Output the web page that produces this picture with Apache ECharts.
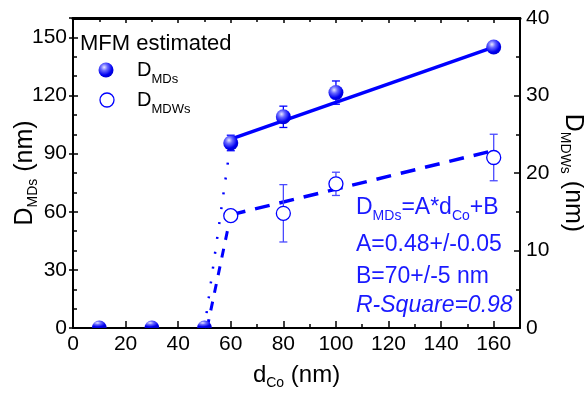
<!DOCTYPE html>
<html><head><meta charset="utf-8">
<script src="https://cdn.jsdelivr.net/npm/echarts@6/dist/echarts.min.js"></script>
<style>html,body{margin:0;padding:0;background:#fff}#c{width:584px;height:394px}</style>
</head><body><div id="c"></div>
<script>
// ---- data ----
const dCoOn = [60, 80, 100, 160];
const dMDs = [95.5, 109, 121.5, 145];
const dMDsErr = [4, 5.5, 6, 1];
const dCoZero = [10, 30, 50];
const dMDsZero = [0, 0, 0];
const dCoW = [60, 80, 100, 160];
const dMDWs = [14.5, 14.8, 18.6, 22];
const dMDWsErr = [0, 3.7, 1.5, 3];
const fitX = [60, 160];
const fitMDs = [97.5, 145];
const fitMDWs = [14.6, 22.9];
const onsetMDsX = [50, 60];
const onsetMDs = [0, 96];
const onsetMDWsX = [51, 60];
const onsetMDWs = [0, 14.6];
const annotation = ['{d|D}{s|MDs}{d|=A*d}{s|Co}{d|+B}', 'A=0.48+/-0.05', 'B=70+/-5 nm', '{i|R-Square=0.98}'];

const blue = '#0000ff';
const ball = {type:'radial', x:0.38, y:0.32, r:0.75, colorStops:[
  {offset:0, color:'#e8e8ff'}, {offset:0.3, color:'#6a6aff'}, {offset:0.7, color:'#0000f0'}, {offset:1, color:'#0000c8'}]};
const FONT = 'Liberation Sans, Arial, sans-serif';

function pairs(xs, ys){ return xs.map((x,i)=>[x, ys[i]]); }
function errSeries(xs, ys, es, yIdx, color){
  return {
    type:'custom', xAxisIndex:0, yAxisIndex:yIdx, z:3,
    data: xs.map((x,i)=>[x, ys[i], es[i]]),
    renderItem: function(params, api){
      const x = api.value(0), y = api.value(1), e = api.value(2);
      const top = api.coord([x, y+e]), bot = api.coord([x, y-e]);
      const st = {stroke: color, lineWidth: 1.3};
      return {type:'group', children:[
        {type:'line', shape:{x1:top[0], y1:top[1], x2:bot[0], y2:bot[1]}, style:st},
        {type:'line', shape:{x1:top[0]-4, y1:top[1], x2:top[0]+4, y2:top[1]}, style:st},
        {type:'line', shape:{x1:bot[0]-4, y1:bot[1], x2:bot[0]+4, y2:bot[1]}, style:st}
      ]};
    }
  };
}

const chart = echarts.init(document.getElementById('c'), null, {renderer:'canvas'});
const axLine = (w) => ({show:true, onZero:false, lineStyle:{color:'#000', width:w || 2}});
const subRich = (fs, sub, pad) => ({
  d:{fontSize:fs, fontFamily:FONT, color:'#000'},
  s:{fontSize:sub, fontFamily:FONT, color:'#000', padding:[pad,0,0,0]}
});

chart.setOption({
  animation:false,
  grid:{left:73, right:64, top:18, bottom:66, containLabel:false, outerBoundsMode:'none'},
  xAxis:[
    {type:'value', position:'bottom', min:0, max:170, interval:20,
     axisLine:axLine(), axisTick:{inside:true, length:7, lineStyle:{color:'#000', width:1.5}},
     minorTick:{show:true, splitNumber:2, length:4, lineStyle:{color:'#000', width:1.5}},
     splitLine:{show:false},
     axisLabel:{fontSize:21, fontFamily:FONT, color:'#000', margin:6, showMaxLabel:false},
     name:'{d|d}{s|Co}{d| (nm)}', nameLocation:'middle', nameGap:32, nameMoveOverlap:false,
     nameTextStyle:{rich:subRich(24,14,16)}},
    {type:'value', position:'top', min:0, max:170, interval:20,
     axisLine:axLine(3),
     axisTick:{show:true, inside:true, length:5, lineStyle:{color:'#000', width:1.5}},
     minorTick:{show:true, splitNumber:2, length:4, lineStyle:{color:'#000', width:1.5}},
     splitLine:{show:false}, axisLabel:{show:false}}
  ],
  yAxis:[
    {type:'value', position:'left', min:0, max:160, interval:30,
     axisLine:axLine(), axisTick:{inside:true, length:5, lineStyle:{color:'#000', width:1.5}},
     minorTick:{show:true, splitNumber:3, length:4, lineStyle:{color:'#000', width:1.5}},
     splitLine:{show:false},
     axisLabel:{fontSize:21, fontFamily:FONT, color:'#000', margin:6, showMaxLabel:false},
     name:'{d|D}{s|MDs}{d| (nm)}', nameLocation:'middle', nameGap:33, nameRotate:90, nameMoveOverlap:false,
     nameTextStyle:{rich:subRich(25,14,16)}},
    {type:'value', position:'right', min:0, max:40, interval:10,
     axisLine:axLine(), axisTick:{inside:true, length:6, lineStyle:{color:'#000', width:1.5}},
     minorTick:{show:true, splitNumber:2, length:4, lineStyle:{color:'#000', width:1.5}},
     splitLine:{show:false},
     axisLabel:{fontSize:21, fontFamily:FONT, color:'#000', margin:6},
     name:'{d|D}{s|MDWs}{d| (nm)}', nameLocation:'middle', nameGap:38, nameRotate:-90, nameMoveOverlap:false,
     nameTextStyle:{rich:subRich(25,14,16)}},
    {type:'value', position:'left', min:0, max:160, interval:30,
     axisLine:{show:false, onZero:false}, axisTick:{inside:false, length:4, lineStyle:{color:'#000', width:1.5}},
     splitLine:{show:false}, axisLabel:{show:false}}
  ],
  series:[
    {type:'line', xAxisIndex:0, yAxisIndex:0, data:pairs(onsetMDsX, onsetMDs), symbol:'none', z:2,
     lineStyle:{color:blue, width:2.5, type:[2,13]}},
    {type:'line', xAxisIndex:0, yAxisIndex:1, data:pairs(onsetMDWsX, onsetMDWs), symbol:'none', z:2,
     lineStyle:{color:blue, width:3, type:[9,9]}},
    {type:'line', xAxisIndex:0, yAxisIndex:0, data:pairs(fitX, fitMDs), symbol:'none', z:2,
     lineStyle:{color:blue, width:3.5}},
    {type:'line', xAxisIndex:0, yAxisIndex:1, data:pairs(fitX, fitMDWs), symbol:'none', z:2,
     lineStyle:{color:blue, width:3.5, type:[15,10]}},
    errSeries(dCoOn, dMDs, dMDsErr, 0, blue),
    errSeries(dCoW, dMDWs, dMDWsErr, 1, '#4a4aff'),
    {type:'scatter', xAxisIndex:0, yAxisIndex:0, data:pairs(dCoOn, dMDs), symbol:'circle', symbolSize:15, z:5,
     itemStyle:{color:ball, opacity:1}},
    {type:'scatter', xAxisIndex:0, yAxisIndex:0, data:pairs(dCoZero, dMDsZero), z:5,
     symbol:'path://M0,10A10,10,0,0,1,20,10Z', symbolSize:[15,7.5], symbolOffset:[0,-3.75], symbolKeepAspect:false,
     itemStyle:{color:ball, opacity:1}},
    {type:'scatter', xAxisIndex:0, yAxisIndex:1, data:pairs(dCoW, dMDWs), symbol:'circle', symbolSize:14, z:5,
     itemStyle:{color:'#fff', borderColor:blue, borderWidth:1.3, opacity:1}}
  ],
  graphic:[
    {type:'text', left:80, top:33, style:{text:'MFM estimated', font:'22px '+FONT, fill:'#000'}},
    {type:'circle', shape:{cx:106, cy:70, r:7.5}, style:{fill:ball}},
    {type:'circle', shape:{cx:107, cy:100, r:7}, style:{fill:'#fff', stroke:blue, lineWidth:1.3}},
    {type:'text', left:137, top:60, style:{text:'{d|D}{s|MDs}', rich:{
      d:{fontSize:20, fontFamily:FONT, fill:'#000'}, s:{fontSize:13, fontFamily:FONT, fill:'#000', padding:[18,0,0,0]}}}},
    {type:'text', left:137, top:90, style:{text:'{d|D}{s|MDWs}', rich:{
      d:{fontSize:20, fontFamily:FONT, fill:'#000'}, s:{fontSize:13, fontFamily:FONT, fill:'#000', padding:[18,0,0,0]}}}},
    {type:'text', left:356, top:196, style:{text:annotation[0], rich:{
      d:{fontSize:23, fontFamily:FONT, fill:'#1a1aff'}, s:{fontSize:14, fontFamily:FONT, fill:'#1a1aff', padding:[18,0,0,0]}}}},
    {type:'text', left:356, top:233, style:{text:annotation[1], font:'23px '+FONT, fill:'#1a1aff'}},
    {type:'text', left:356, top:265, style:{text:annotation[2], font:'23px '+FONT, fill:'#1a1aff'}},
    {type:'text', left:356, top:294, style:{text:annotation[3], rich:{
      i:{fontSize:23, fontStyle:'italic', fontFamily:FONT, fill:'#1a1aff'}}}}
  ]
});
</script></body></html>
